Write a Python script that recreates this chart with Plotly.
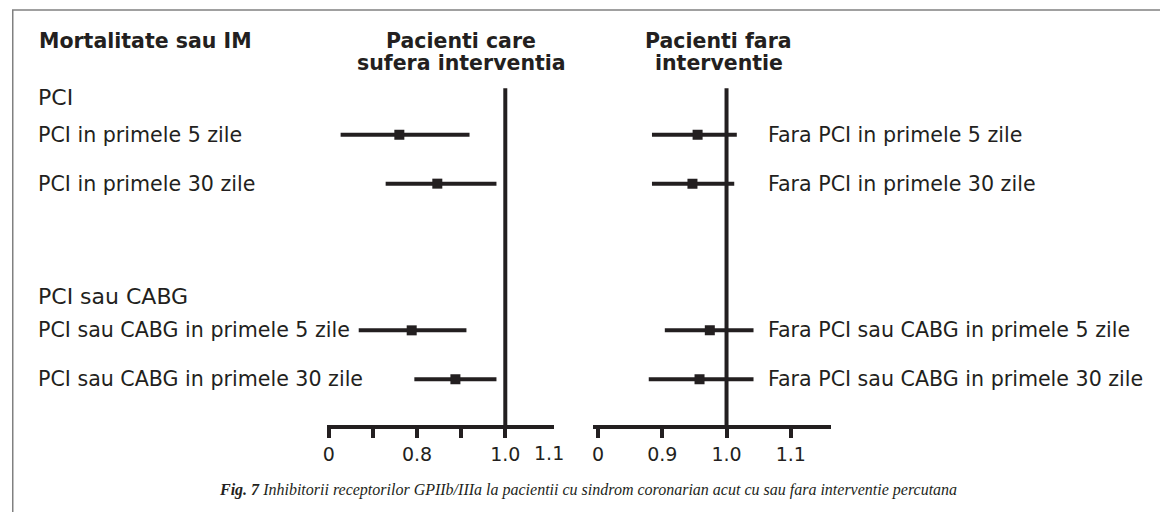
import plotly.graph_objects as go

# ---------------- data ----------------
left_labels = ["PCI in primele 5 zile", "PCI in primele 30 zile",
               "PCI sau CABG in primele 5 zile", "PCI sau CABG in primele 30 zile"]
right_labels = ["Fara PCI in primele 5 zile", "Fara PCI in primele 30 zile",
                "Fara PCI sau CABG in primele 5 zile", "Fara PCI sau CABG in primele 30 zile"]
row_pos = [1, 2, 5, 6]
group_titles = ["PCI", "PCI sau CABG"]
group_pos = [0.23, 4.3]

left_est = [0.760, 0.846, 0.788, 0.887]
left_lo = [0.627, 0.729, 0.668, 0.794]
left_hi = [0.919, 0.980, 0.912, 0.980]

right_est = [0.955, 0.947, 0.974, 0.958]
right_lo = [0.884, 0.884, 0.904, 0.879]
right_hi = [1.016, 1.012, 1.042, 1.042]

left_tickvals = [0.6, 0.7, 0.8, 0.9, 1.0]
left_ticktext = ["0", "", "0.8", "", "1.0"]
left_extra_val, left_extra_text = 1.1, "1.1"
right_tickvals = [0.8, 0.9, 1.0, 1.1]
right_ticktext = ["0", "0.9", "1.0", "1.1"]
ref_value = 1.0

title_left = "Mortalitate sau IM"
head_left = ["Pacienti care", "sufera interventia"]
head_right = ["Pacienti fara", "interventie"]
caption = "<i><b>Fig. 7</b> Inhibitorii receptorilor GPIIb/IIIa la pacientii cu sindrom coronarian acut cu sau fara interventie percutana</i>"

# ---------------- layout constants ----------------
OFF = 8                      # page body margin
W, H = 1168 - OFF, 512 - OFF
INK = "#231f20"
SANS = "DejaVu Sans"
ROW_A, ROW_B = 85.85, 48.9   # page-pixel of row position 0, pixels per row unit
PLOT_BOTTOM = 425            # page pixel of plot-area bottom
Y_RANGE = [(PLOT_BOTTOM - ROW_A) / ROW_B, (OFF - ROW_A) / ROW_B]
Y_BOTTOM = Y_RANGE[0]
REF_TOP = 0.05


def px(xp):
    return (xp - OFF) / W


def py(yp):
    return 1 - (yp - OFF) / H


fig = go.Figure()


def add_panel(xa, lo, hi, est):
    xs, ys = [], []
    for a, b, p in zip(lo, hi, row_pos):
        xs += [a, b, None]
        ys += [p, p, None]
    fig.add_trace(go.Scatter(x=[ref_value, ref_value], y=[REF_TOP, Y_BOTTOM], mode="lines",
                             line=dict(color=INK, width=4), xaxis=xa, yaxis="y",
                             hoverinfo="skip", showlegend=False))
    fig.add_trace(go.Scatter(x=xs, y=ys, mode="lines", line=dict(color=INK, width=4),
                             xaxis=xa, yaxis="y", hoverinfo="skip", showlegend=False))
    fig.add_trace(go.Scatter(x=est, y=row_pos, mode="markers",
                             marker=dict(symbol="square", size=10, color=INK, line=dict(width=0)),
                             xaxis=xa, yaxis="y", showlegend=False))


add_panel("x", left_lo, left_hi, left_est)
add_panel("x2", right_lo, right_hi, right_est)

axis_common = dict(showgrid=False, zeroline=False, showline=True, linewidth=4, linecolor=INK,
                   ticks="outside", ticklen=9, tickwidth=4, tickcolor=INK,
                   tickfont=dict(family=SANS, size=19, color=INK), anchor="y", fixedrange=True)

fig.update_layout(
    width=W, height=H,
    margin=dict(l=0, r=0, t=0, b=0),
    paper_bgcolor="white", plot_bgcolor="white",
    xaxis=dict(domain=[px(324), px(552)], range=[1 - (503 - 324) / 443, 1 + (552 - 503) / 443],
               tickvals=left_tickvals, ticktext=left_ticktext, **axis_common),
    xaxis2=dict(domain=[px(591), px(830)], range=[1 - (725 - 591) / 645, 1 + (830 - 725) / 645],
                tickvals=right_tickvals, ticktext=right_ticktext, **axis_common),
    yaxis=dict(domain=[1 - (PLOT_BOTTOM - OFF) / H, 1], range=Y_RANGE, visible=False, fixedrange=True),
)

BOLD = dict(family=SANS, size=20.5, color=INK, weight="bold")
ann = []
ann.append(dict(text=title_left, x=px(33), y=py(41), xref="paper", yref="paper",
                xanchor="left", yanchor="middle", showarrow=False, font=BOLD))
for lines, cx in ((head_left, 459), (head_right, 717)):
    for t, cy in zip(lines, (41, 63)):
        ann.append(dict(text=t, x=px(cx), y=py(cy), xref="paper", yref="paper",
                        xanchor="center", yanchor="middle", showarrow=False, font=BOLD))
for t, p in zip(group_titles, group_pos):
    ann.append(dict(text=t, x=px(32), y=p, xref="paper", yref="y",
                    xanchor="left", yanchor="middle", showarrow=False,
                    font=dict(family=SANS, size=22, color=INK)))
for t, p in zip(left_labels, row_pos):
    ann.append(dict(text=t, x=px(32), y=p, xref="paper", yref="y",
                    xanchor="left", yanchor="middle", showarrow=False,
                    font=dict(family=SANS, size=20.6, color=INK)))
for t, p in zip(right_labels, row_pos):
    ann.append(dict(text=t, x=px(765), y=p, xref="paper", yref="y",
                    xanchor="left", yanchor="middle", showarrow=False,
                    font=dict(family=SANS, size=20.6, color=INK)))
ann.append(dict(text=left_extra_text, x=left_extra_val, y=py(453), xref="x", yref="paper",
                xanchor="center", yanchor="middle", showarrow=False,
                font=dict(family=SANS, size=19, color=INK)))
ann.append(dict(text=caption, x=px(586), y=py(490), xref="paper", yref="paper",
                xanchor="center", yanchor="middle", showarrow=False,
                font=dict(family="Liberation Serif", size=16, color=INK)))
fig.update_layout(annotations=ann)

fig.update_layout(shapes=[
    dict(type="line", xref="paper", yref="paper", x0=0, x1=1.0, y0=py(10), y1=py(10),
         line=dict(color="#808080", width=1.5)),
    dict(type="line", xref="paper", yref="paper", x0=px(8.75), x1=px(8.75), y0=py(10), y1=0,
         line=dict(color="#808080", width=1.5)),
])

fig.write_html("out.html")
